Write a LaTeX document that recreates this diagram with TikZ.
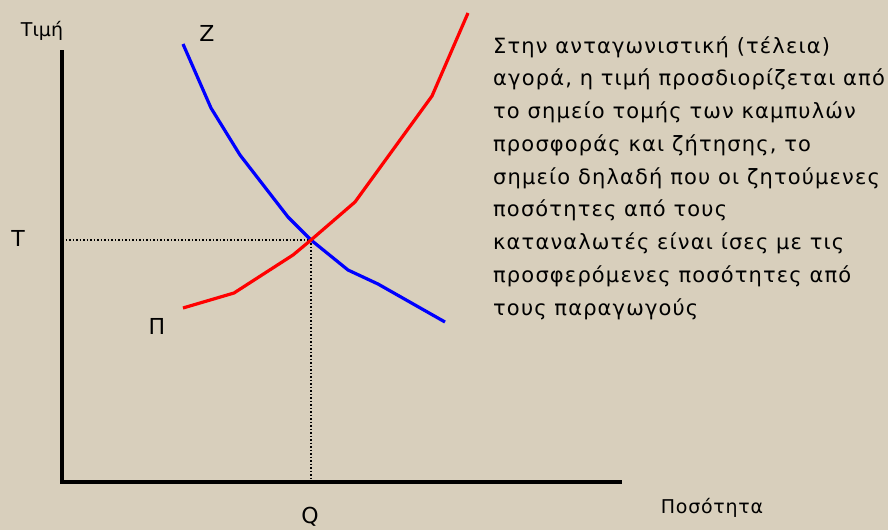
\documentclass[tikz,border=0pt]{standalone}
\usepackage{fontspec}
\setmainfont{DejaVu Sans}
\definecolor{slidebg}{RGB}{216,207,188}
\definecolor{supplyred}{RGB}{255,0,0}
\definecolor{demandblue}{RGB}{0,0,255}
\tikzset{
  axislabel/.style={inner sep=0pt, font=\fontsize{19}{20}\selectfont},
  curvelabel/.style={inner sep=0pt, font=\fontsize{22}{24}\selectfont},
  guide/.style={line width=1.5pt, dotted},
}
\begin{document}
\begin{tikzpicture}[x=1pt, y=-1pt]
\def\axiswd{3.6pt}
\def\curvewd{3.2pt}
% Slide background
\fill[slidebg] (0,0) rectangle (888,530);
\useasboundingbox (0,0) rectangle (888,530);
% Axes
\coordinate (origin) at (62,482);
\coordinate (ytop) at (62,50);
\coordinate (xend) at (622,482);
\draw[line width=\axiswd] (ytop) -- (origin) -- (xend);
% Equilibrium point and guides
\coordinate (eq) at (311,240);
\coordinate (eqy) at (62,240);
\coordinate (eqx) at (311,482);
\draw[guide] (eqy) -- (eq) -- (eqx);
% Demand curve Z
\draw[demandblue, line width=\curvewd, line join=round]
  (183,44) -- (211,108) -- (240,155) -- (288,217) -- (eq)
  -- (348,270) -- (378,284) -- (445,322);
% Supply curve Pi
\draw[supplyred, line width=\curvewd, line join=round]
  (183,308) -- (234,293) -- (293,255) -- (eq)
  -- (355,202) -- (432,96) -- (468,13);
% Labels
\node[axislabel] (price) at (42,31) {Τιμή};
\node[axislabel, font=\fontsize{19}{20}\selectfont\addfontfeature{LetterSpace=4}] (qty) at (712,508) {Ποσότητα};
\node[curvelabel] (zlab) at (207,33) {Z};
\node[curvelabel] (plab) at (157,326) {Π};
\node[curvelabel] (tlab) at (18,238) {Τ};
\node[curvelabel] (qlab) at (310,517) {Q};
% Explanation text (base anchor sits on the last line)
\node[anchor=base west, align=left, inner sep=0pt,
      font=\fontsize{21}{32.75}\selectfont\addfontfeature{LetterSpace=5.5}] (expl) at (493,315)
  {Στην ανταγωνιστική (τέλεια)\\
   αγορά, η τιμή προσδιορίζεται από\\
   το σημείο τομής των καμπυλών\\
   προσφοράς και ζήτησης, το\\
   σημείο δηλαδή που οι ζητούμενες\\
   ποσότητες από τους\\
   καταναλωτές είναι ίσες με τις\\
   προσφερόμενες ποσότητες από\\
   τους παραγωγούς};
\end{tikzpicture}
\end{document}
